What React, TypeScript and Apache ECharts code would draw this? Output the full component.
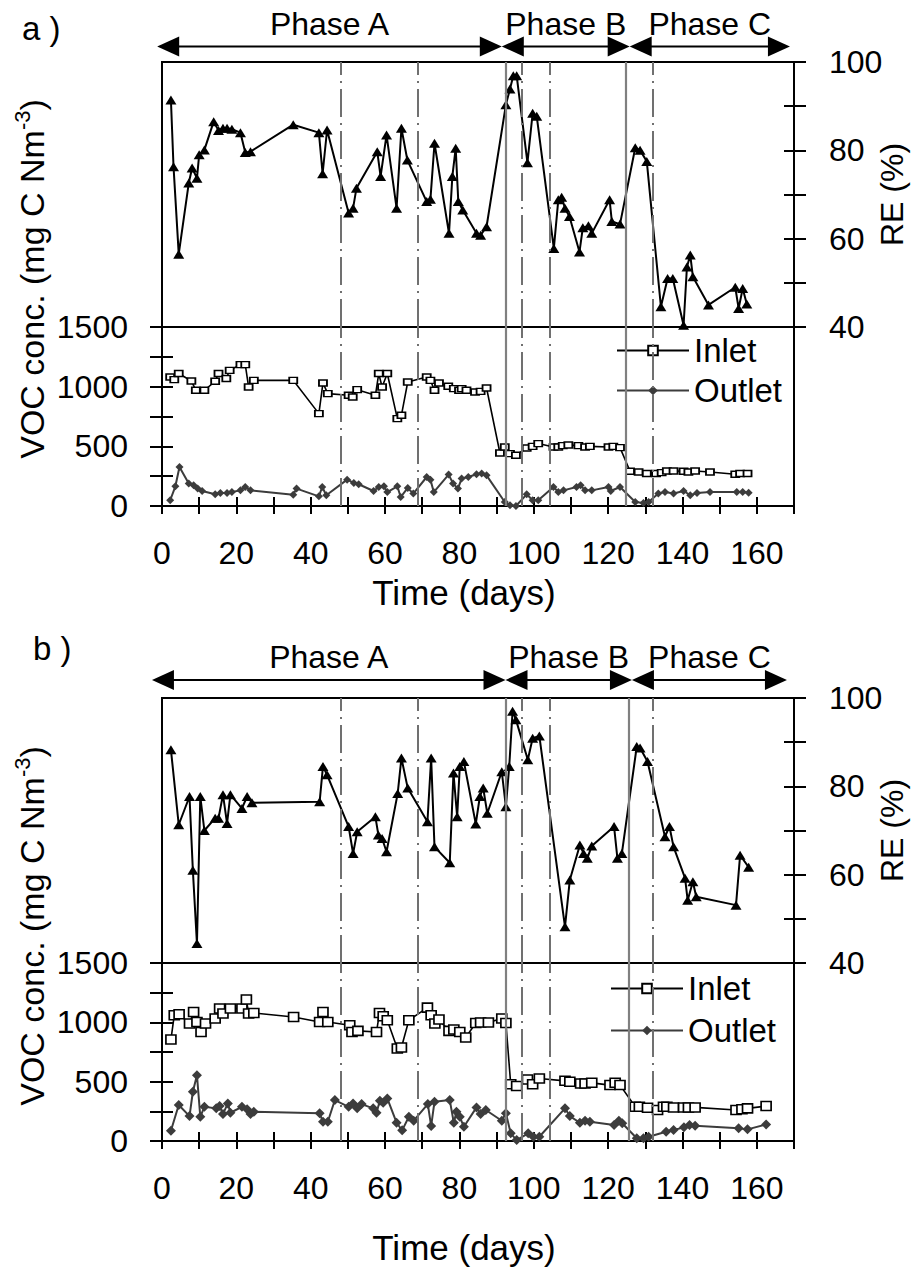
import React, { useEffect, useRef } from 'react';
import * as echarts from 'echarts';

const FONT = '"Liberation Sans", Arial, Helvetica, sans-serif';

// ---------- data (day, value) ----------
const phaseNames = ['Phase A', 'Phase B', 'Phase C'];

// Panel a
const aRE: [number, number][] = [
  [2.4, 91.4], [3.1, 76.3], [4.5, 56.5], [7.2, 72.6], [8.1, 76.0], [9.4, 73.7], [10.0, 79.0], [11.4, 80.1],
  [13.9, 86.5], [15.2, 84.5], [16.4, 85.0], [17.5, 85.0], [18.8, 84.8], [21.1, 84.0], [22.4, 79.5], [23.8, 79.7],
  [35.3, 85.8], [42.2, 84.0], [43.2, 74.7], [44.4, 84.6], [50.2, 65.8], [51.4, 66.9], [52.3, 71.4], [57.9, 79.7],
  [58.8, 74.1], [60.4, 83.5], [63.1, 66.9], [64.4, 85.0], [66.0, 77.8], [71.2, 68.4], [72.2, 68.9], [73.3, 81.6],
  [77.2, 61.2], [78.1, 74.1], [79.0, 80.5], [79.7, 68.4], [80.9, 66.5], [84.6, 61.2], [85.7, 60.8], [87.3, 62.7],
  [92.5, 90.3], [93.6, 93.9], [94.5, 96.9], [95.4, 96.9], [98.3, 77.2], [99.7, 88.4], [100.8, 87.7], [105.4, 57.8],
  [106.6, 68.8], [107.5, 69.4], [108.4, 66.9], [109.6, 65.0], [112.3, 57.0], [113.2, 62.5], [114.7, 62.9], [115.6, 61.2],
  [120.4, 68.8], [121.0, 63.9], [123.2, 63.3], [127.3, 80.6], [128.6, 80.0], [130.4, 77.5], [134.2, 44.6], [136.0, 51.0],
  [137.4, 51.0], [140.3, 40.4], [141.2, 53.6], [142.1, 56.3], [142.8, 51.4], [147.0, 45.0], [154.2, 49.0], [155.1, 44.2],
  [156.2, 48.7], [157.3, 45.2],
];
const aInlet: [number, number][] = [
  [2.2, 1081], [3.3, 1059], [4.5, 1110], [7.9, 1048], [9.1, 970], [11.4, 970], [14.3, 1045], [15.2, 1110],
  [17.3, 1068], [18.2, 1137], [21.1, 1185], [22.4, 1185], [23.3, 997], [24.7, 1053], [35.3, 1053], [42.2, 774],
  [43.3, 1031], [44.6, 942], [50.2, 928], [51.3, 913], [52.5, 975], [57.4, 928], [58.3, 1110], [59.2, 997],
  [60.6, 1110], [63.3, 732], [64.4, 760], [66.1, 1039], [71.2, 1081], [72.2, 1053], [73.3, 970], [74.5, 1031],
  [77.0, 1003], [78.5, 984], [79.9, 970], [80.6, 984], [81.9, 970], [84.2, 955], [85.7, 961], [87.3, 989],
  [90.9, 444], [92.2, 494], [93.6, 439], [95.2, 425], [98.1, 486], [99.7, 500], [101.2, 523], [105.3, 494],
  [106.6, 494], [107.8, 506], [109.3, 511], [112.0, 506], [113.8, 494], [115.1, 500], [120.1, 494], [121.4, 500],
  [123.2, 489], [125.9, 291], [128.2, 285], [130.4, 272], [132.9, 272], [134.4, 280], [135.8, 293], [137.6, 293],
  [140.3, 291], [141.6, 285], [143.4, 293], [147.4, 285], [154.2, 266], [155.5, 272], [157.5, 272],
];
const aOutlet: [number, number][] = [
  [2.2, 48], [3.6, 165], [4.7, 327], [7.2, 188], [8.5, 173], [9.6, 146], [10.8, 126], [14.3, 98],
  [15.7, 109], [17.5, 109], [18.8, 117], [21.1, 131], [22.4, 159], [23.8, 131], [35.3, 95], [36.2, 146],
  [42.2, 81], [43.1, 159], [44.2, 90], [49.8, 221], [51.6, 193], [52.9, 182], [56.9, 126], [58.3, 159],
  [59.7, 165], [60.6, 117], [63.3, 165], [64.2, 75], [66.1, 151], [67.6, 104], [71.2, 243], [72.2, 221],
  [73.1, 117], [77.1, 263], [78.3, 188], [79.6, 146], [80.6, 230], [82.4, 243], [84.6, 266], [86.0, 272],
  [87.3, 257], [92.2, 34], [93.6, 6], [95.2, 0], [98.1, 98], [99.7, 48], [101.2, 48], [105.3, 159],
  [106.6, 117], [108.0, 131], [111.5, 159], [112.6, 173], [113.8, 131], [115.6, 131], [120.1, 159], [120.7, 126],
  [123.2, 159], [127.3, 34], [129.5, 25], [130.9, 34], [133.5, 104], [135.3, 117], [137.6, 104], [140.3, 126],
  [142.1, 90], [143.9, 109], [147.4, 117], [154.6, 117], [156.2, 117], [157.8, 112],
];
const aPhaseBounds = [-1.3, 91.4, 125.8, 168.9];
const aSolidDays = [92.5, 124.8];
const aDashDays = [48.2, 68.8, 96.7, 104.2, 132];

// Panel b
const bRE: [number, number][] = [
  [2.4, 88.3], [4.5, 71.3], [7.4, 77.7], [8.3, 61.0], [9.4, 44.4], [10.3, 77.7], [11.4, 70.0], [14.3, 72.8],
  [15.2, 72.8], [16.4, 78.1], [17.5, 71.6], [18.4, 78.1], [21.5, 75.0], [22.9, 77.7], [24.2, 76.3], [42.4, 76.5],
  [43.3, 84.5], [44.4, 82.6], [50.2, 70.9], [51.4, 64.8], [52.5, 69.7], [57.4, 73.1], [58.2, 69.0], [59.2, 68.2],
  [60.4, 65.2], [63.4, 78.4], [64.4, 86.4], [66.1, 79.6], [71.4, 72.0], [72.4, 86.4], [73.3, 66.3], [77.4, 62.7],
  [78.4, 83.0], [79.4, 73.1], [80.1, 84.5], [81.2, 85.6], [84.4, 71.5], [85.5, 77.7], [86.4, 79.6], [87.5, 73.9],
  [91.4, 83.3], [92.5, 75.4], [93.4, 84.5], [94.3, 97.0], [95.2, 95.1], [98.4, 86.0], [99.7, 90.9], [101.5, 91.4],
  [108.4, 48.2], [109.7, 58.8], [112.4, 66.7], [113.4, 64.8], [114.4, 63.7], [115.6, 66.5], [121.6, 70.9], [122.5, 63.7],
  [123.7, 64.8], [127.7, 89.0], [128.6, 88.7], [130.6, 85.6], [135.3, 68.6], [136.5, 70.9], [137.6, 66.3], [140.7, 59.2],
  [141.4, 54.2], [142.8, 58.4], [143.7, 55.0], [154.4, 53.1], [155.5, 64.4], [157.8, 61.7],
];
const bInlet: [number, number][] = [
  [2.4, 855], [3.3, 1060], [4.6, 1068], [7.4, 990], [8.5, 1088], [9.4, 1003], [10.5, 919], [11.7, 990],
  [14.3, 1032], [15.5, 1116], [16.4, 1074], [18.4, 1116], [21.5, 1116], [22.7, 1192], [23.3, 1074], [24.7, 1079],
  [35.4, 1045], [42.4, 1003], [43.3, 1088], [44.6, 1003], [50.5, 976], [51.1, 919], [52.7, 928], [57.7, 919],
  [58.5, 1079], [59.5, 1051], [60.6, 1018], [63.3, 780], [64.4, 788], [66.4, 1018], [71.4, 1124], [72.4, 1060],
  [73.4, 990], [74.5, 1023], [77.2, 928], [78.5, 939], [80.1, 919], [81.7, 872], [84.4, 995], [85.7, 998],
  [87.8, 998], [91.4, 1032], [92.5, 995], [93.8, 479], [95.4, 463], [98.3, 519], [99.7, 479], [101.5, 527],
  [108.4, 507], [109.7, 499], [112.6, 485], [113.8, 485], [115.6, 490], [120.5, 471], [121.9, 490], [123.2, 471],
  [127.3, 288], [128.4, 288], [130.6, 280], [133.3, 261], [134.9, 288], [135.8, 288], [137.6, 283], [140.3, 283],
  [141.6, 283], [143.4, 283], [154.4, 261], [156.0, 267], [157.5, 275], [162.5, 294],
];
const bOutlet: [number, number][] = [
  [2.4, 87], [4.5, 303], [7.4, 210], [8.3, 415], [9.4, 555], [10.3, 204], [11.4, 288], [14.6, 275],
  [15.5, 294], [16.4, 227], [17.7, 317], [18.4, 238], [21.5, 288], [22.9, 267], [23.8, 227], [24.7, 246],
  [42.4, 233], [43.3, 162], [44.6, 162], [46.5, 345], [50.2, 288], [51.4, 317], [52.5, 275], [53.7, 311],
  [56.8, 275], [57.7, 238], [58.6, 339], [59.5, 322], [60.6, 359], [63.1, 154], [64.6, 90], [66.4, 204],
  [67.7, 171], [71.5, 311], [72.4, 126], [73.3, 331], [77.4, 345], [78.5, 154], [79.2, 246], [80.1, 204],
  [81.2, 120], [84.6, 283], [85.7, 227], [87.1, 261], [91.4, 171], [92.5, 233], [93.8, 65], [95.4, 8],
  [98.5, 65], [99.9, 36], [101.5, 36], [108.4, 275], [109.7, 210], [112.4, 154], [113.8, 171], [115.1, 162],
  [121.6, 135], [122.9, 171], [123.8, 149], [127.7, 23], [129.5, 23], [130.9, 36], [135.6, 78], [137.6, 93],
  [140.4, 115], [141.9, 135], [143.4, 129], [155.1, 107], [157.5, 98], [162.5, 140],
];
const bPhaseBounds = [-2.7, 92.4, 126.4, 168.1];
const bSolidDays = [92.5, 125.6];
const bDashDays = [48.2, 68.8, 96.8, 104.2, 132];

// ---------- layout ----------
const panels = [
  {
    label: 'a )', labelX: 22, labelY: 28,
    re: aRE, inlet: aInlet, outlet: aOutlet, bounds: aPhaseBounds, solid: aSolidDays, dash: aDashDays,
    top: 62, reH: 265, vocH: 179, arrowOff: 15.5, xNameGap: 69,
    legendLeft: 611, legendTop: 329, legendGap: 7, inletSize: [8, 6], outletSize: 8, vocTitleY: 279,
  },
  {
    label: 'b )', labelX: 33, labelY: 648,
    re: bRE, inlet: bInlet, outlet: bOutlet, bounds: bPhaseBounds, solid: bSolidDays, dash: bDashDays,
    top: 698, reH: 265, vocH: 178, arrowOff: 18, xNameGap: 89,
    legendLeft: 605, legendTop: 967, legendGap: 9, inletSize: [10, 9], outletSize: 10, vocTitleY: 926,
  },
];

const BLACK = '#000';
const tickStyle = { color: BLACK, width: 2 };
const axisText = { fontSize: 32, color: BLACK, fontFamily: FONT };

function buildOption() {
  const grid: any[] = [];
  const xAxis: any[] = [];
  const yAxis: any[] = [];
  const series: any[] = [];
  const legend: any[] = [];
  const graphic: any[] = [];

  panels.forEach((p, k) => {
    const gTop = k * 2;
    const gBot = k * 2 + 1;
    const xHidden = k * 3;
    const xMain = k * 3 + 1;
    const yRE = k * 4;
    const yVOC = k * 4 + 2;

    const gridBase = { left: 162, width: 632, show: true, borderColor: BLACK, borderWidth: 2, containLabel: false, outerBoundsMode: 'none' };
    grid.push({ ...gridBase, top: p.top, height: p.reH });
    grid.push({ ...gridBase, top: p.top + p.reH, height: p.vocH });

    xAxis.push({ gridIndex: gTop, type: 'value', position: 'bottom', min: 0, max: 170, show: false });
    xAxis.push({
      gridIndex: gBot, type: 'value', position: 'bottom', min: 0, max: 170, interval: 10,
      axisLine: { show: true, onZero: false, lineStyle: tickStyle },
      axisTick: { show: true, inside: true, length: 9, lineStyle: tickStyle },
      axisLabel: {
        ...axisText, margin: 31, showMaxLabel: true, showMinLabel: true,
        formatter: (v: number) => (v % 20 === 0 && v <= 160 ? String(v) : ''),
      },
      splitLine: { show: false },
      name: 'Time (days)', nameLocation: 'middle', nameGap: p.xNameGap,
      nameTextStyle: { fontSize: 35, color: BLACK, fontFamily: FONT, padding: [0, 28, 0, 0] },
    });
    xAxis.push({
      gridIndex: gBot, type: 'value', position: 'bottom', min: 0, max: 170, interval: 10,
      axisLine: { show: false, onZero: false },
      axisTick: { show: true, inside: false, length: 8, lineStyle: tickStyle },
      axisLabel: { show: false }, splitLine: { show: false },
    });

    yAxis.push({
      gridIndex: gTop, type: 'value', position: 'right', min: 40, max: 100, interval: 10,
      axisLine: { show: true, onZero: false, lineStyle: tickStyle },
      axisTick: { show: true, inside: true, length: 10, lineStyle: tickStyle },
      axisLabel: { ...axisText, margin: 35, formatter: (v: number) => (v % 20 === 0 ? String(v) : '') },
      splitLine: { show: false },
      name: 'RE (%)', nameLocation: 'middle', nameRotate: 90, nameGap: 82, nameMoveOverlap: false,
      nameTextStyle: { fontSize: 32, color: BLACK, fontFamily: FONT },
    });
    yAxis.push({
      gridIndex: gTop, type: 'value', position: 'right', min: 40, max: 100, interval: 10,
      axisLine: { show: false, onZero: false },
      axisTick: { show: true, inside: false, length: 12, lineStyle: tickStyle },
      axisLabel: { show: false }, splitLine: { show: false },
    });
    yAxis.push({
      gridIndex: gBot, type: 'value', position: 'left', min: 0, max: 1500, interval: 250,
      axisLine: { show: true, onZero: false, lineStyle: tickStyle },
      axisTick: { show: true, inside: false, length: 12, lineStyle: tickStyle },
      axisLabel: { ...axisText, margin: 34, formatter: (v: number) => (v % 500 === 0 ? String(v) : '') },
      splitLine: { show: false },
    });
    yAxis.push({
      gridIndex: gBot, type: 'value', position: 'left', min: 0, max: 1500, interval: 250,
      axisLine: { show: false, onZero: false },
      axisTick: { show: true, inside: true, length: 11, lineStyle: tickStyle },
      axisLabel: { show: false }, splitLine: { show: false },
    });

    const vLines = () => ({
      silent: true,
      symbol: ['none', 'none'],
      label: { show: false },
      animation: false,
      data: [
        ...p.solid.map((d) => ({ xAxis: d, lineStyle: { color: '#808080', width: 2.2, type: 'solid' } })),
        ...p.dash.map((d) => ({ xAxis: d, lineStyle: { color: '#707070', width: 2, type: [28, 6, 2, 6] } })),
      ],
    });

    series.push({
      name: `RE ${k}`, type: 'line', xAxisIndex: xHidden, yAxisIndex: yRE, data: p.re,
      symbol: 'triangle', symbolSize: [11, 9], showSymbol: true,
      lineStyle: { color: BLACK, width: 2 }, itemStyle: { color: BLACK },
      markLine: vLines(), z: 3,
    });
    series.push({
      name: 'Inlet', type: 'line', xAxisIndex: xMain, yAxisIndex: yVOC, data: p.inlet,
      symbol: 'rect', symbolSize: p.inletSize, showSymbol: true,
      lineStyle: { color: BLACK, width: 1.6 },
      itemStyle: { color: '#fff', borderColor: BLACK, borderWidth: 1.6 },
      markLine: vLines(), z: 3,
    });
    series.push({
      name: 'Outlet', type: 'line', xAxisIndex: xMain, yAxisIndex: yVOC, data: p.outlet,
      symbol: 'diamond', symbolSize: p.outletSize, showSymbol: true,
      lineStyle: { color: '#3c3c3c', width: 2 },
      itemStyle: { color: '#3c3c3c' }, z: 3,
    });

    const phaseData = phaseNames.map((_, i) => [p.bounds[i], p.bounds[i + 1]]);
    series.push({
      name: `phases ${k}`, type: 'custom', xAxisIndex: xHidden, yAxisIndex: yRE, clip: false, silent: true,
      data: phaseData, z: 5,
      renderItem: (params: any, api: any) => {
        const i = params.dataIndex;
        const s = api.coord([api.value(0), 100]);
        const e = api.coord([api.value(1), 100]);
        const y = s[1] - p.arrowOff;
        const L = 22;
        const H = 10;
        return {
          type: 'group',
          children: [
            { type: 'line', shape: { x1: s[0] + L - 2, y1: y, x2: e[0] - L + 2, y2: y }, style: { stroke: BLACK, lineWidth: 2 } },
            { type: 'polygon', shape: { points: [[s[0], y], [s[0] + L, y - H], [s[0] + L, y + H]] }, style: { fill: BLACK } },
            { type: 'polygon', shape: { points: [[e[0], y], [e[0] - L, y - H], [e[0] - L, y + H]] }, style: { fill: BLACK } },
            {
              type: 'text', x: (s[0] + e[0]) / 2, y: y - 23,
              style: { text: phaseNames[i], fontSize: 32, fontFamily: FONT, fill: BLACK, align: 'center', verticalAlign: 'middle' },
            },
          ],
        };
      },
    });

    legend.push({
      left: p.legendLeft, top: p.legendTop, orient: 'vertical', selectedMode: false,
      itemWidth: 72, itemHeight: 12, itemGap: p.legendGap,
      data: ['Inlet', 'Outlet'],
      textStyle: { fontSize: 33, fontFamily: FONT, color: BLACK },
    });

    graphic.push({
      type: 'text', x: p.labelX, y: p.labelY,
      style: { text: p.label, fontSize: 33, fontFamily: FONT, fill: BLACK, align: 'left', verticalAlign: 'middle' },
    });
    graphic.push({
      type: 'text', x: 30, y: p.vocTitleY, rotation: Math.PI / 2,
      style: {
        text: '{n|VOC conc. (mg C Nm}{s|-3}{n|)}',
        fill: BLACK, align: 'center', verticalAlign: 'middle',
        rich: {
          n: { fontSize: 34, fontFamily: FONT, fill: BLACK, lineHeight: 38, verticalAlign: 'bottom' },
          s: { fontSize: 22, fontFamily: FONT, fill: BLACK, verticalAlign: 'top' },
        },
      },
    });
  });

  return { animation: false, backgroundColor: '#fff', grid, xAxis, yAxis, series, legend, graphic };
}

export default function App() {
  const ref = useRef<HTMLDivElement>(null);
  useEffect(() => {
    if (!ref.current) return;
    const chart = echarts.init(ref.current, null, { renderer: 'svg' });
    chart.setOption(buildOption() as any);
    return () => chart.dispose();
  }, []);
  return (
    <div
      ref={ref}
      style={{ position: 'fixed', left: 0, top: 0, width: 916, height: 1269, background: '#fff' }}
    />
  );
}
